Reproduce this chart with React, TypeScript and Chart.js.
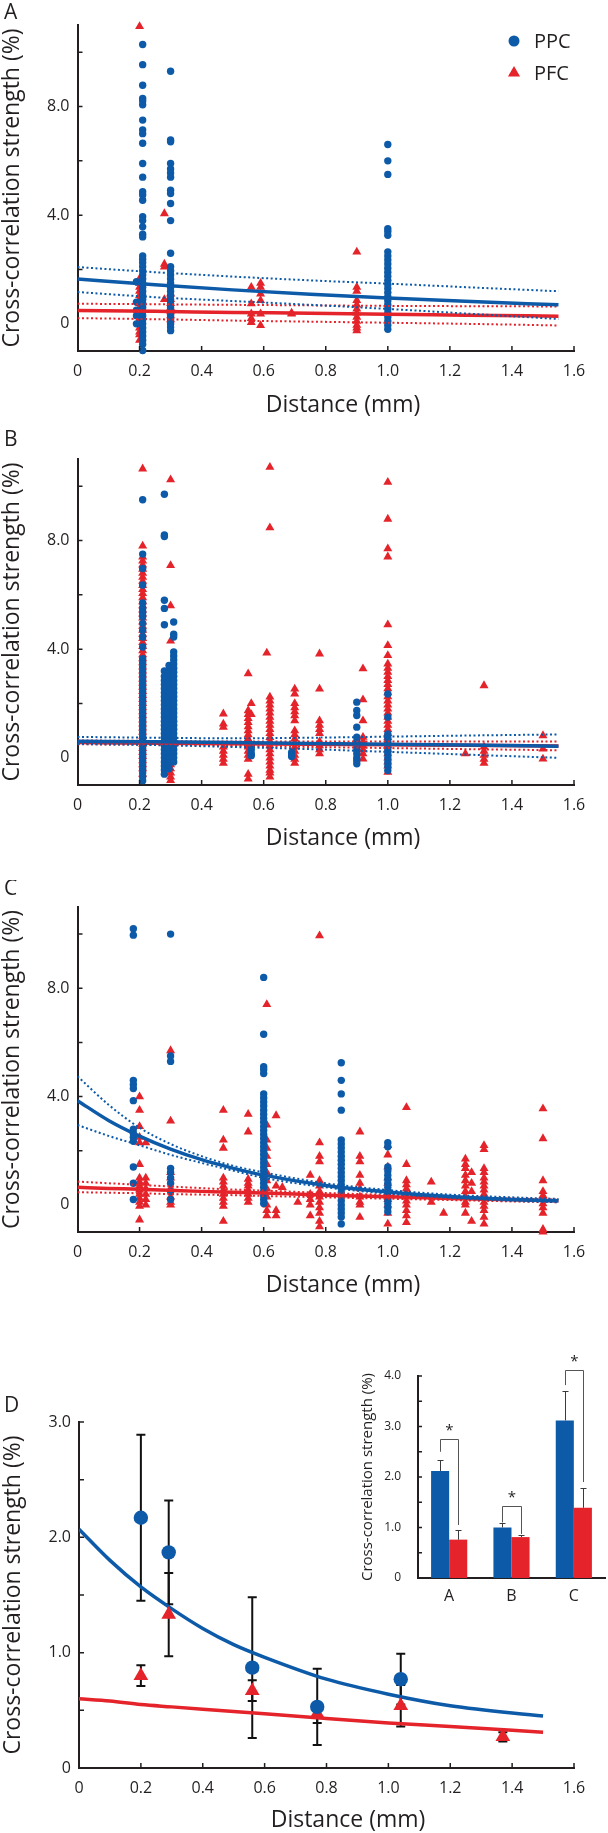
import React, { useEffect, useRef } from 'react';
import { Chart, registerables } from 'chart.js';

Chart.register(...registerables);

// ---------------- data ----------------
const xTickValues = [0, 0.2, 0.4, 0.6, 0.8, 1.0, 1.2, 1.4, 1.6];
const xTickLabels = ['0', '0.2', '0.4', '0.6', '0.8', '1.0', '1.2', '1.4', '1.6'];
const yTickValuesABC = [0, 2, 4, 6, 8, 10];
const yTickLabelsABC = ['0', '', '4.0', '', '8.0', ''];
const yTickValuesD = [0, 0.5, 1, 1.5, 2, 2.5, 3];
const yTickLabelsD = ['0', '', '1.0', '', '2.0', '', '3.0'];
const insetYTickValues = [0, 0.5, 1, 1.5, 2, 2.5, 3, 3.5, 4];
const insetYTickLabels = ['0', '', '1.0', '', '2.0', '', '3.0', '', '4.0'];

const xTitle = 'Distance (mm)';
const yTitle = 'Cross-correlation strength (%)';
const seriesNames = ['PPC', 'PFC'];

type Col = { x: number; ys: number[] };

// Panel A
const ppcA: Col[] = [
  { x: 0.21, ys: [10.28, 9.54, 8.78, 8.3, 8.2, 8.06, 7.5, 7.14, 7.0, 6.65, 5.9, 5.4, 4.86, 4.74, 4.55, 3.94, 3.8, 3.57, 3.3, 3.2, 2.5, 2.38, 2.25, 2.1, 1.95, 1.8, 1.65, 1.5, 1.35, 1.2, 1.05, 0.9, 0.75, 0.6, 0.45, 0.3, 0.15, 0.0, -0.15, -0.3, -0.45, -0.6, -0.75, -0.98] },
  { x: 0.19, ys: [1.55, 0.8, 0.5, 0.3, 0.0] },
  { x: 0.3, ys: [9.3, 6.77, 6.7, 5.9, 5.7, 5.55, 5.4, 4.92, 4.8, 4.43, 3.8, 2.6, 2.1, 1.95, 1.8, 1.65, 1.5, 1.35, 1.2, 1.05, 0.9, 0.75, 0.6, 0.45, 0.3, 0.15, 0.0, -0.12, -0.25] },
  { x: 1.0, ys: [6.6, 6.0, 5.5, 3.5, 3.4, 3.26, 2.65, 2.5, 2.35, 2.2, 2.05, 1.9, 1.75, 1.6, 1.45, 1.3, 1.15, 1.0, 0.85, 0.7, 0.55, 0.4, 0.25, 0.1, -0.05, -0.2] },
];
const pfcA: Col[] = [
  { x: 0.2, ys: [10.95, 1.66, 1.5, 1.35, 1.2, 1.05, 0.9, 0.75, 0.6, 0.45, 0.3, 0.15, 0.0, -0.15, -0.3, -0.4, -0.6] },
  { x: 0.28, ys: [4.06, 2.2, 2.1, 0.9] },
  { x: 0.3, ys: [1.1, 0.9, 0.75, 0.6, 0.45, 0.3, 0.15] },
  { x: 0.56, ys: [1.35, 0.74, 0.37, 0.2, 0.05] },
  { x: 0.59, ys: [1.5, 1.35, 1.1, 0.86, 0.37, -0.06] },
  { x: 0.69, ys: [0.37, 0.4] },
  { x: 0.9, ys: [2.65, 1.35, 1.2, 0.86, 0.7, 0.55, 0.4, 0.25, 0.1, -0.05, -0.15, -0.25] },
];
const fitXA = [0, 0.25, 0.5, 0.75, 1.0, 1.25, 1.55];
const ppcFitA = [1.65, 1.44, 1.25, 1.09, 0.95, 0.83, 0.7];
const ppcUpA = [2.09, 1.9, 1.74, 1.6, 1.48, 1.35, 1.2];
const ppcLoA = [1.17, 0.98, 0.84, 0.7, 0.55, 0.38, 0.18];
const pfcFitA = [0.49, 0.46, 0.42, 0.39, 0.35, 0.32, 0.28];
const pfcUpA = [0.74, 0.72, 0.7, 0.68, 0.66, 0.65, 0.64];
const pfcLoA = [0.21, 0.17, 0.12, 0.08, 0.04, 0.0, -0.06];

// Panel B
const ppcB: Col[] = [
  { x: 0.21, ys: [9.5, 7.5, 6.97, 6.36, 5.7, 5.5, 5.35, 5.2, 4.95, 4.7, 4.45, 4.08, 3.65, 3.5, 3.35, 3.2, 3.05, 2.9, 2.75, 2.6, 2.45, 2.3, 2.15, 2.0, 1.85, 1.7, 1.55, 1.4, 1.25, 1.1, 0.95, 0.8, 0.65, 0.5, 0.35, 0.2, 0.05, -0.1, -0.25, -0.4, -0.55, -0.7, -0.84] },
  { x: 0.28, ys: [9.7, 8.2, 8.15, 5.8, 5.5, 4.9, 3.2, 3.0, 2.85, 2.7, 2.55, 2.4, 2.25, 2.1, 1.95, 1.8, 1.65, 1.5, 1.35, 1.2, 1.05, 0.9, 0.75, 0.6, 0.45, 0.3, 0.15, 0.0, -0.15, -0.3, -0.45, -0.6] },
  { x: 0.295, ys: [3.4, 3.2, 3.0, 2.8, 2.6, 2.4, 2.2, 2.0, 1.8, 1.6, 1.4, 1.2, 1.0, 0.8, 0.6, 0.4, 0.2, 0.0, -0.2, -0.4] },
  { x: 0.31, ys: [5.0, 4.55, 4.45, 3.9, 3.75, 3.6, 3.45, 3.3, 3.15, 3.0, 2.85, 2.7, 2.55, 2.4, 2.25, 2.1, 1.95, 1.8, 1.65, 1.5, 1.35, 1.2, 1.05, 0.9, 0.75, 0.6, 0.45, 0.3, 0.15, 0.0, -0.15] },
  { x: 0.56, ys: [0.45, 0.3, 0.15, 0.08] },
  { x: 0.69, ys: [0.2, 0.1, 0.05] },
  { x: 0.9, ys: [2.05, 1.74, 1.56, 1.13, 0.76, 0.6, 0.45, 0.3, 0.15, 0.0, -0.1, -0.22] },
  { x: 1.0, ys: [2.35, 1.5, 0.88, 0.75, 0.6, 0.45, 0.3, 0.15, 0.0, -0.15, -0.3, -0.47] },
];
const pfcB: Col[] = [
  { x: 0.21, ys: [10.64, 7.8, 7.4, 7.25, 7.1, 6.95, 6.8, 6.65, 6.5, 6.35, 6.2, 6.05, 5.9, 5.75, 5.6, 5.45, 5.3, 5.15, 5.0, 4.85, 4.7, 4.55, 4.4, 4.25, 4.1, 3.95, 3.8, 3.65, 3.5, 3.35, 3.2, 3.05, 2.9, 2.75, 2.6, 2.45, 2.3, 2.15, 2.0, 1.85, 1.7, 1.55, 1.4, 1.25, 1.1, 0.95, 0.8, 0.65, 0.5, 0.35, 0.2, 0.05, -0.1, -0.25, -0.4, -0.6] },
  { x: 0.3, ys: [10.24, 7.08, 5.6, 4.3, 3.2, 3.05, 2.9, 2.75, 2.6, 2.45, 2.3, 2.15, 2.0, 1.85, 1.7, 1.55, 1.4, 1.25, 1.1, 0.95, 0.8, 0.65, 0.5, 0.35, 0.2, 0.05, -0.1, -0.25, -0.4, -0.55, -0.7, -0.83] },
  { x: 0.47, ys: [1.62, 1.25, 1.13, 0.4, 0.25, 0.1, -0.05, -0.2] },
  { x: 0.55, ys: [3.1, 1.74, 1.6, 1.45, 1.3, 1.15, 1.0, 0.85, 0.7, 0.55, 0.4, 0.25, 0.1, -0.05, -0.6, -0.78] },
  { x: 0.56, ys: [2.0, 1.6] },
  { x: 0.61, ys: [3.86] },
  { x: 0.62, ys: [10.7, 8.47, 2.24, 2.1, 1.95, 1.8, 1.65, 1.5, 1.35, 1.2, 1.05, 0.9, 0.75, 0.6, 0.45, 0.3, 0.15, 0.0, -0.15, -0.3, -0.45, -0.55, -0.7] },
  { x: 0.7, ys: [2.54, 2.35, 2.0, 1.85, 1.7, 1.55, 1.37, 1.0, 0.85, 0.7, 0.55, 0.4, 0.25, 0.1, -0.05, -0.2] },
  { x: 0.78, ys: [3.83, 2.54, 1.37, 1.2, 1.05, 0.9, 0.6, 0.45, 0.3, 0.15] },
  { x: 0.92, ys: [3.28, 2.14, 1.37, 0.76, 0.6, 0.45, 0.3, 0.15, -0.04] },
  { x: 1.0, ys: [10.15, 8.79, 7.7, 7.4, 4.9, 4.14, 3.77, 3.46, 3.3, 3.15, 3.0, 2.85, 2.7, 2.55, 2.4, 2.25, 2.1, 1.95, 1.8, 1.65, 1.5, 1.35, 1.2, 1.05, 0.9, 0.75, 0.6, 0.45, 0.3, 0.15, 0.0, -0.15, -0.3, -0.53] },
  { x: 1.25, ys: [0.15] },
  { x: 1.31, ys: [2.66, 0.4, 0.25, 0.1, -0.05, -0.2] },
  { x: 1.5, ys: [0.82, 0.33, -0.04] },
];
const fitXB = [0, 0.25, 0.5, 0.75, 1.0, 1.25, 1.55];
const ppcFitB = [0.61, 0.59, 0.56, 0.53, 0.5, 0.47, 0.43];
const ppcUpB = [0.77, 0.74, 0.72, 0.74, 0.78, 0.82, 0.86];
const ppcLoB = [0.51, 0.47, 0.4, 0.32, 0.22, 0.12, 0.0];
const pfcFitB = [0.56, 0.54, 0.52, 0.5, 0.48, 0.46, 0.44];
const pfcUpB = [0.64, 0.62, 0.6, 0.6, 0.6, 0.6, 0.6];
const pfcLoB = [0.5, 0.48, 0.44, 0.4, 0.36, 0.32, 0.28];

// Panel C
const ppcC: Col[] = [
  { x: 0.18, ys: [10.2, 9.96, 4.6, 4.45, 4.3, 3.85, 2.8, 2.65, 2.5, 2.35, 1.4, 0.8, 0.2] },
  { x: 0.3, ys: [10.0, 5.5, 5.3, 1.35, 1.2, 1.0, 0.8, 0.5, 0.2] },
  { x: 0.6, ys: [8.4, 6.3, 5.1, 5.0, 4.85, 4.1, 3.95, 3.8, 3.65, 3.5, 3.35, 3.2, 3.05, 2.9, 2.75, 2.6, 2.45, 2.3, 2.15, 2.0, 1.85, 1.7, 1.55, 1.4, 1.25, 1.1, 0.95, 0.8, 0.65, 0.5, 0.35, 0.2, 0.05] },
  { x: 0.85, ys: [5.25, 4.6, 4.1, 3.5, 2.4, 2.25, 2.1, 1.95, 1.8, 1.65, 1.5, 1.35, 1.2, 1.05, 0.9, 0.75, 0.6, 0.45, 0.3, 0.15, 0.0, -0.15, -0.3, -0.45, -0.7] },
  { x: 1.0, ys: [2.3, 2.15, 1.4, 1.25, 1.1, 0.95, 0.8, 0.65, 0.5, 0.35, 0.2, 0.05, -0.1, -0.25] },
];
const pfcC: Col[] = [
  { x: 0.2, ys: [4.0, 3.5, 2.9, 2.5, 2.3, 1.5, 1.0, 0.85, 0.7, 0.55, 0.4, 0.25, 0.1, -0.05, -0.55] },
  { x: 0.22, ys: [2.3, 1.0, 0.8, 0.6, 0.4, 0.2, 0.0] },
  { x: 0.3, ys: [5.7, 3.1, 1.2, 1.0, 0.6, 0.3, 0.1, 0.0] },
  { x: 0.47, ys: [3.5, 2.4, 2.1, 1.0, 0.85, 0.7, 0.55, 0.4, 0.25, 0.1, -0.05, -0.6] },
  { x: 0.55, ys: [3.35, 2.7, 0.95, 0.8, 0.7, 0.55, 0.4, 0.25, 0.1] },
  { x: 0.61, ys: [7.4, 2.95, 2.4, 2.1, 1.8, 1.5, 1.2, 0.9, 0.6, 0.3, 0.0, -0.2, -0.4] },
  { x: 0.64, ys: [3.3, 0.7, -0.2, -0.4] },
  { x: 0.66, ys: [0.65] },
  { x: 0.71, ys: [0.1] },
  { x: 0.75, ys: [1.1, 0.4, 0.2, 0.0, -0.4] },
  { x: 0.78, ys: [9.94, 2.3, 1.8, 1.6, 0.9, 0.7, 0.5, 0.3, 0.1, -0.1, -0.3, -0.6, -0.8] },
  { x: 0.91, ys: [2.7, 1.8, 1.6, 1.1, 0.8, 0.6, 0.3, 0.1, 0.0, -0.45] },
  { x: 1.0, ys: [2.2, 1.85, 1.4, 1.0, 0.8, 0.6, 0.4, 0.2, 0.0, -0.3, -0.7] },
  { x: 1.06, ys: [3.6, 1.5, 0.9, 0.75, 0.6, 0.45, 0.3, 0.15, 0.0, -0.2, -0.4, -0.65] },
  { x: 1.14, ys: [0.85, 0.1] },
  { x: 1.18, ys: [-0.3] },
  { x: 1.25, ys: [1.7, 1.5, 1.35, 1.1, 0.9, 0.7, 0.5, 0.3, 0.1, 0.0, -0.3] },
  { x: 1.27, ys: [1.2, 0.8, 0.5, -0.6] },
  { x: 1.31, ys: [2.2, 2.05, 1.35, 1.2, 1.0, 0.85, 0.7, 0.55, 0.4, 0.25, 0.1, -0.05, -0.2, -0.45, -0.7] },
  { x: 1.5, ys: [3.55, 2.45, 0.9, 0.5, 0.35, 0.2, 0.05, -0.1, -0.3, -0.9, -1.0] },
];
const fitXC = [0, 0.1, 0.2, 0.3, 0.4, 0.5, 0.6, 0.8, 1.0, 1.2, 1.4, 1.55];
const ppcFitC = [3.85, 3.12, 2.54, 2.06, 1.67, 1.36, 1.1, 0.72, 0.48, 0.31, 0.2, 0.15];
const ppcUpC = [4.75, 3.7, 2.85, 2.25, 1.8, 1.45, 1.2, 0.8, 0.55, 0.38, 0.28, 0.22];
const ppcLoC = [2.95, 2.55, 2.2, 1.85, 1.55, 1.27, 1.0, 0.65, 0.42, 0.26, 0.15, 0.1];
const pfcFitC = [0.65, 0.61, 0.58, 0.54, 0.5, 0.47, 0.44, 0.36, 0.3, 0.24, 0.19, 0.15];
const pfcUpC = [0.86, 0.8, 0.74, 0.68, 0.62, 0.57, 0.53, 0.44, 0.37, 0.3, 0.24, 0.2];
const pfcLoC = [0.47, 0.45, 0.43, 0.4, 0.38, 0.36, 0.33, 0.28, 0.23, 0.18, 0.13, 0.1];

// Panel D
const ppcDX = [0.2, 0.29, 0.56, 0.77, 1.04];
const ppcDY = [2.17, 1.87, 0.87, 0.53, 0.77];
const ppcDErr = [0.72, 0.45, 0.61, 0.33, 0.22];
const pfcDX = [0.2, 0.29, 0.56, 0.77, 1.04, 1.37];
const pfcDY = [0.8, 1.33, 0.67, 0.47, 0.54, 0.27];
const pfcDErr = [0.09, 0.36, 0.09, 0.08, 0.18, 0.04];
const fitXD = [0, 0.1, 0.2, 0.3, 0.4, 0.5, 0.6, 0.8, 1.0, 1.2, 1.5];
const ppcFitD = [2.07, 1.8, 1.57, 1.38, 1.21, 1.07, 0.96, 0.77, 0.64, 0.54, 0.45];
const pfcFitD = [0.6, 0.58, 0.55, 0.53, 0.51, 0.49, 0.47, 0.43, 0.39, 0.36, 0.31];

// Inset (bar chart)
const insetCats = ['A', 'B', 'C'];
const insetPpc = [2.12, 1.0, 3.12];
const insetPpcErr = [0.22, 0.08, 0.58];
const insetPfc = [0.76, 0.81, 1.39];
const insetPfcErr = [0.2, 0.04, 0.39];
const bracketTop = [2.75, 1.43, 4.11];
const bracketLeftEnd = [2.5, 1.1, 3.82];
const bracketRightEnd = [1.05, 0.87, 1.9];

// ---------------- styles ----------------
const FONT = '"Open Sans", "Noto Sans", "DejaVu Sans", sans-serif';
const TXT = '#231f20';
const BLUE = '#0c5aa8';
const RED = '#e4232a';

const toPoints = (cols: Col[]) => {
  const pts: { x: number; y: number }[] = [];
  cols.forEach((c) => c.ys.forEach((y) => pts.push({ x: c.x, y })));
  return pts;
};
const toLine = (xs: number[], ys: number[]) => xs.map((x, i) => ({ x, y: ys[i] }));

// ---------------- plugins ----------------
const innerTicks = {
  id: 'innerTicks',
  afterDraw(chart: any, _a: any, opts: any) {
    const { ctx, chartArea } = chart;
    const len = opts.len ?? 5;
    ctx.save();
    ctx.strokeStyle = TXT;
    ctx.lineWidth = opts.width ?? 1.5;
    ctx.beginPath();
    if (opts.x) {
      const sx = chart.scales.x;
      sx.ticks.forEach((t: any) => {
        if (t.value === 0) return;
        const px = sx.getPixelForValue(t.value);
        ctx.moveTo(px, chartArea.bottom);
        ctx.lineTo(px, chartArea.bottom - len);
      });
    }
    if (opts.y) {
      const sy = chart.scales.y;
      sy.ticks.forEach((t: any) => {
        if (t.value === 0) return;
        const py = sy.getPixelForValue(t.value);
        ctx.moveTo(chartArea.left, py);
        ctx.lineTo(chartArea.left + len, py);
      });
    }
    ctx.stroke();
    ctx.restore();
  },
};

const decor = {
  id: 'decor',
  afterDraw(chart: any, _a: any, opts: any) {
    const { ctx } = chart;
    ctx.save();
    ctx.fillStyle = TXT;
    ctx.textBaseline = 'middle';
    if (opts.letter) {
      ctx.font = `21px ${FONT}`;
      ctx.textAlign = 'left';
      ctx.fillText(opts.letter, opts.lx, opts.ly);
    }
    if (opts.xTitle) {
      ctx.font = `23px ${FONT}`;
      ctx.textAlign = 'center';
      ctx.fillText(xTitle, opts.tx, opts.ty);
    }
    if (opts.legend) {
      const cx = 514;
      ctx.fillStyle = BLUE;
      ctx.beginPath();
      ctx.arc(cx, 41, 5.5, 0, Math.PI * 2);
      ctx.fill();
      ctx.fillStyle = RED;
      ctx.beginPath();
      const r = 7;
      ctx.moveTo(cx, 73 - r);
      ctx.lineTo(cx + r * 0.866, 73 + r * 0.5);
      ctx.lineTo(cx - r * 0.866, 73 + r * 0.5);
      ctx.closePath();
      ctx.fill();
      ctx.fillStyle = TXT;
      ctx.font = `20px ${FONT}`;
      ctx.textAlign = 'left';
      ctx.fillText(seriesNames[0], 534, 42);
      ctx.fillText(seriesNames[1], 534, 74);
    }
    ctx.restore();
  },
};

const errorBars = {
  id: 'errorBars',
  beforeDatasetsDraw(chart: any, _a: any, opts: any) {
    if (!opts.sets) return;
    const { ctx } = chart;
    const sy = chart.scales.y;
    ctx.save();
    ctx.strokeStyle = '#111';
    ctx.lineWidth = 2;
    opts.sets.forEach((s: any) => {
      const meta = chart.getDatasetMeta(s.ds);
      const data = chart.data.datasets[s.ds].data;
      meta.data.forEach((el: any, i: number) => {
        const v = data[i].y;
        const e = s.err[i];
        const x = el.x;
        const y1 = sy.getPixelForValue(v + e);
        const y2 = sy.getPixelForValue(v - e);
        ctx.beginPath();
        ctx.moveTo(x, y1);
        ctx.lineTo(x, y2);
        ctx.moveTo(x - 4.5, y1);
        ctx.lineTo(x + 4.5, y1);
        ctx.moveTo(x - 4.5, y2);
        ctx.lineTo(x + 4.5, y2);
        ctx.stroke();
      });
    });
    ctx.restore();
  },
};

const insetMarks = {
  id: 'insetMarks',
  afterDatasetsDraw(chart: any) {
    const { ctx } = chart;
    const sy = chart.scales.y;
    const m0 = chart.getDatasetMeta(0);
    const m1 = chart.getDatasetMeta(1);
    ctx.save();
    ctx.strokeStyle = '#3a3a3a';
    ctx.lineWidth = 1;
    const errs = [
      { meta: m0, vals: insetPpc, err: insetPpcErr },
      { meta: m1, vals: insetPfc, err: insetPfcErr },
    ];
    errs.forEach((g) => {
      g.meta.data.forEach((el: any, i: number) => {
        const x = Math.round(el.x) + 0.5;
        const yb = sy.getPixelForValue(g.vals[i]);
        const yt = Math.round(sy.getPixelForValue(g.vals[i] + g.err[i])) + 0.5;
        ctx.beginPath();
        ctx.moveTo(x, yb);
        ctx.lineTo(x, yt);
        ctx.moveTo(x - 3, yt);
        ctx.lineTo(x + 3, yt);
        ctx.stroke();
      });
    });
    ctx.strokeStyle = '#555';
    ctx.fillStyle = TXT;
    ctx.font = `15px ${FONT}`;
    ctx.textAlign = 'center';
    ctx.textBaseline = 'middle';
    insetCats.forEach((_c, i) => {
      const xl = Math.round(m0.data[i].x) + 0.5;
      const xr = Math.round(m1.data[i].x) + 0.5;
      const yt = Math.round(sy.getPixelForValue(bracketTop[i])) + 0.5;
      ctx.beginPath();
      ctx.moveTo(xl, sy.getPixelForValue(bracketLeftEnd[i]));
      ctx.lineTo(xl, yt);
      ctx.lineTo(xr, yt);
      ctx.lineTo(xr, sy.getPixelForValue(bracketRightEnd[i]));
      ctx.stroke();
      ctx.fillText('*', (xl + xr) / 2, yt - 9);
    });
    ctx.restore();
  },
};

// ---------------- config builders ----------------
function xScale(height: number, extra: any = {}) {
  return {
    type: 'linear',
    min: 0,
    max: 1.6,
    afterBuildTicks: (s: any) => {
      s.ticks = xTickValues.map((v) => ({ value: v }));
    },
    afterFit: (s: any) => {
      s.height = height;
    },
    grid: { display: false, drawTicks: false },
    border: { display: true, color: TXT, width: 2 },
    ticks: {
      autoSkip: false,
      maxRotation: 0,
      padding: 11,
      color: TXT,
      font: { family: FONT, size: 16 },
      callback: (_v: any, i: number) => xTickLabels[i],
    },
    title: { display: false },
    ...extra,
  };
}

function yScale(min: number, max: number, vals: number[], labels: string[], width: number, titleX: number) {
  return {
    type: 'linear',
    min,
    max,
    afterBuildTicks: (s: any) => {
      s.ticks = vals.map((v) => ({ value: v }));
    },
    afterFit: (s: any) => {
      s.width = width;
    },
    grid: { display: false, drawTicks: false },
    border: { display: true, color: TXT, width: 2 },
    ticks: {
      autoSkip: false,
      padding: 8,
      color: TXT,
      font: { family: FONT, size: 16 },
      callback: (_v: any, i: number) => labels[i],
    },
    title: {
      display: true,
      text: yTitle,
      color: TXT,
      font: { family: FONT, size: 23, lineHeight: 1 },
      padding: { top: titleX - 11.5, bottom: 0 },
    },
  };
}

function lineDs(xs: number[], ys: number[], color: string, dotted: boolean, order: number) {
  return {
    data: toLine(xs, ys),
    showLine: true,
    borderColor: color,
    backgroundColor: color,
    borderWidth: dotted ? 2 : 3.5,
    borderDash: dotted ? [2, 2.5] : [],
    pointRadius: 0,
    tension: 0.4,
    cubicInterpolationMode: 'monotone',
    fill: false,
    order,
  };
}

type Panel = {
  ppc: Col[];
  pfc: Col[];
  fitX: number[];
  ppcFit: number[];
  ppcUp: number[];
  ppcLo: number[];
  pfcFit: number[];
  pfcUp: number[];
  pfcLo: number[];
  padTop: number;
  padBottom: number;
  xH: number;
  letter: string;
  ly: number;
  ty: number;
  legend?: boolean;
};

function scatterConfig(p: Panel): any {
  return {
    type: 'scatter',
    data: {
      datasets: [
        lineDs(p.fitX, p.ppcFit, BLUE, false, 0),
        lineDs(p.fitX, p.ppcUp, BLUE, true, 1),
        lineDs(p.fitX, p.ppcLo, BLUE, true, 1),
        lineDs(p.fitX, p.pfcFit, RED, false, 2),
        lineDs(p.fitX, p.pfcUp, RED, true, 3),
        lineDs(p.fitX, p.pfcLo, RED, true, 3),
        {
          label: seriesNames[0],
          data: toPoints(p.ppc),
          pointStyle: 'circle',
          pointRadius: 3.7,
          backgroundColor: BLUE,
          borderWidth: 0,
          clip: 10,
          order: 4,
        },
        {
          label: seriesNames[1],
          data: toPoints(p.pfc),
          pointStyle: 'triangle',
          pointRadius: 5.2,
          backgroundColor: RED,
          borderWidth: 0,
          clip: 10,
          order: 5,
        },
      ],
    },
    options: {
      responsive: false,
      animation: false,
      events: [],
      layout: { padding: { left: 0, right: 34, top: p.padTop, bottom: p.padBottom } },
      plugins: {
        legend: { display: false },
        tooltip: { enabled: false },
        innerTicks: { x: true, y: true, len: 5 },
        decor: { letter: p.letter, lx: 4, ly: p.ly, xTitle: true, tx: 343, ty: p.ty, legend: !!p.legend },
      },
      scales: {
        x: xScale(p.xH),
        y: yScale(-1, 11, yTickValuesABC, yTickLabelsABC, 77.5, 12),
      },
    },
    plugins: [innerTicks, decor],
  };
}

function dConfig(): any {
  return {
    type: 'scatter',
    data: {
      datasets: [
        {
          label: seriesNames[0],
          data: toLine(ppcDX, ppcDY),
          pointStyle: 'circle',
          pointRadius: 7.2,
          backgroundColor: BLUE,
          borderWidth: 0,
          clip: 12,
          order: 0,
        },
        {
          label: seriesNames[1],
          data: toLine(pfcDX, pfcDY),
          pointStyle: 'triangle',
          pointRadius: 8.5,
          backgroundColor: RED,
          borderWidth: 0,
          clip: 12,
          order: 1,
        },
        lineDs(fitXD, ppcFitD, BLUE, false, 2),
        lineDs(fitXD, pfcFitD, RED, false, 3),
      ],
    },
    options: {
      responsive: false,
      animation: false,
      events: [],
      layout: { padding: { left: 0, right: 34, top: 42, bottom: 1.5 } },
      plugins: {
        legend: { display: false },
        tooltip: { enabled: false },
        innerTicks: { x: true, y: true, len: 5 },
        decor: { letter: 'D', lx: 4, ly: 26, xTitle: true, tx: 348, ty: 440 },
        errorBars: {
          sets: [
            { ds: 0, err: ppcDErr },
            { ds: 1, err: pfcDErr },
          ],
        },
      },
      scales: {
        x: xScale(63.5),
        y: yScale(0, 3, yTickValuesD, yTickLabelsD, 79, 13),
      },
    },
    plugins: [errorBars, innerTicks, decor],
  };
}

function insetConfig(): any {
  return {
    type: 'bar',
    data: {
      labels: insetCats,
      datasets: [
        { label: seriesNames[0], data: insetPpc, backgroundColor: BLUE, borderWidth: 0 },
        { label: seriesNames[1], data: insetPfc, backgroundColor: RED, borderWidth: 0 },
      ],
    },
    options: {
      responsive: false,
      animation: false,
      events: [],
      datasets: { bar: { barPercentage: 1, categoryPercentage: 0.58 } },
      layout: { padding: { left: 20, right: 3, top: 36, bottom: 2 } },
      plugins: {
        legend: { display: false },
        tooltip: { enabled: false },
        innerTicks: { x: false, y: true, len: 4, width: 1.5 },
      },
      scales: {
        x: {
          type: 'category',
          afterFit: (s: any) => {
            s.height = 40;
          },
          grid: { display: false, drawTicks: false },
          border: { display: true, color: TXT, width: 2 },
          ticks: { padding: 9, color: TXT, font: { family: FONT, size: 16 } },
        },
        y: {
          type: 'linear',
          min: 0,
          max: 4,
          afterBuildTicks: (s: any) => {
            s.ticks = insetYTickValues.map((v) => ({ value: v }));
          },
          afterFit: (s: any) => {
            s.width = 58;
          },
          grid: { display: false, drawTicks: false },
          border: { display: true, color: TXT, width: 2 },
          ticks: {
            autoSkip: false,
            padding: 17,
            color: TXT,
            font: { family: FONT, size: 12 },
            callback: (_v: any, i: number) => insetYTickLabels[i],
          },
          title: {
            display: true,
            text: yTitle,
            color: TXT,
            font: { family: FONT, size: 15, lineHeight: 1 },
            padding: { top: 0.5, bottom: 0 },
          },
        },
      },
    },
    plugins: [insetMarks, innerTicks],
  };
}

// ---------------- components ----------------
function ChartCanvas({ config, left, top, width, height }: { config: () => any; left: number; top: number; width: number; height: number }) {
  const ref = useRef<HTMLCanvasElement | null>(null);
  useEffect(() => {
    if (!ref.current) return;
    const chart = new Chart(ref.current, config());
    return () => chart.destroy();
  }, []);
  return (
    <canvas
      ref={ref}
      width={width}
      height={height}
      style={{ position: 'absolute', left, top, width, height, display: 'block' }}
    />
  );
}

const panelA: Panel = {
  ppc: ppcA, pfc: pfcA, fitX: fitXA, ppcFit: ppcFitA, ppcUp: ppcUpA, ppcLo: ppcLoA,
  pfcFit: pfcFitA, pfcUp: pfcUpA, pfcLo: pfcLoA,
  padTop: 25, padBottom: 8.5, xH: 65.5, letter: 'A', ly: 13, ty: 405, legend: true,
};
const panelB: Panel = {
  ppc: ppcB, pfc: pfcB, fitX: fitXB, ppcFit: ppcFitB, ppcUp: ppcUpB, ppcLo: ppcLoB,
  pfcFit: pfcFitB, pfcUp: pfcUpB, pfcLo: pfcLoB,
  padTop: 29, padBottom: 5.5, xH: 64.5, letter: 'B', ly: 10, ty: 408,
};
const panelC: Panel = {
  ppc: ppcC, pfc: pfcC, fitX: fitXC, ppcFit: ppcFitC, ppcUp: ppcUpC, ppcLo: ppcLoC,
  pfcFit: pfcFitC, pfcUp: pfcUpC, pfcLo: pfcLoC,
  padTop: 27, padBottom: 8.5, xH: 64.5, letter: 'C', ly: 9, ty: 405,
};

export default function App() {
  return (
    <div style={{ position: 'absolute', left: 0, top: 0, width: 608, height: 1833, background: '#fff', overflow: 'hidden' }}>
      <ChartCanvas config={() => scatterConfig(panelA)} left={0} top={0} width={608} height={425} />
      <ChartCanvas config={() => scatterConfig(panelB)} left={0} top={430} width={608} height={425} />
      <ChartCanvas config={() => scatterConfig(panelC)} left={0} top={880} width={608} height={425} />
      <ChartCanvas config={dConfig} left={0} top={1380} width={608} height={453} />
      <ChartCanvas config={insetConfig} left={340} top={1340} width={268} height={280} />
    </div>
  );
}
